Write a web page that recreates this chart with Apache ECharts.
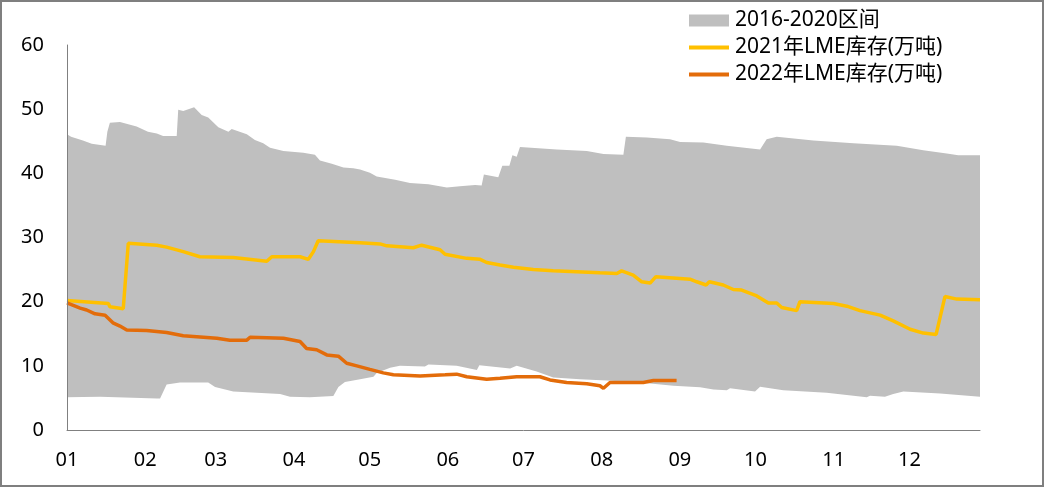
<!DOCTYPE html>
<html>
<head>
<meta charset="utf-8">
<script src="https://cdn.jsdelivr.net/npm/echarts@6/dist/echarts.min.js"></script>
<style>
html,body{margin:0;padding:0;background:#fff;}
#c{width:1044px;height:487px;}
</style>
</head>
<body>
<div id="c"></div>
<script>
// x positions are day-of-year offsets from Jan 1
const monthLabels = ['01','02','03','04','05','06','07','08','09','10','11','12'];
const yTicks = [0, 10, 20, 30, 40, 50, 60];

const highDays = [0, 1.6, 6.3, 9.8, 15.3, 16.0, 17.0, 21.0, 27.6, 32.1, 35.6, 38.1, 43.5, 44.1, 46.1, 50.4, 53.4, 56.0, 60.0, 64.0, 65.3, 71.3, 74.5, 77.8, 80.5, 85.8, 93.7, 98.3, 100.3, 105.0, 109.6, 113.5, 116.2, 120.1, 122.8, 130.1, 136.0, 143.3, 150.6, 155.8, 161.8, 164.4, 165.3, 171.0, 172.6, 175.4, 176.6, 178.3, 179.6, 194.2, 206.1, 212.7, 220.6, 221.6, 229.9, 239.1, 243.1, 252.3, 261.6, 274.8, 277.4, 281.4, 295.9, 311.8, 329.0, 339.5, 348.8, 353.4, 362];
const highVals = [46.1, 45.7, 45.1, 44.6, 44.3, 46.5, 47.9, 48.0, 47.3, 46.5, 46.2, 45.8, 45.8, 49.9, 49.7, 50.3, 49.1, 48.7, 47.2, 46.5, 46.9, 46.1, 45.2, 44.7, 44.0, 43.5, 43.2, 42.9, 42.0, 41.5, 40.9, 40.8, 40.6, 40.1, 39.5, 39.0, 38.5, 38.3, 37.8, 38.0, 38.2, 38.1, 39.8, 39.4, 41.2, 41.2, 42.8, 42.6, 44.1, 43.7, 43.5, 43.0, 42.9, 45.7, 45.6, 45.3, 44.9, 44.8, 44.3, 43.7, 45.3, 45.7, 45.1, 44.7, 44.3, 43.6, 43.1, 42.8, 42.8];

const lowDays = [0, 13.1, 35.6, 36.9, 39.5, 44.8, 56.0, 58.7, 65.9, 84.5, 88.4, 96.3, 105.6, 107.6, 110.2, 116.2, 121.5, 122.8, 128.1, 132.0, 141.9, 143.3, 154.5, 162.5, 163.5, 175.7, 178.3, 186.2, 192.8, 203.4, 214.0, 227.2, 240.4, 251.0, 256.3, 261.6, 262.9, 272.8, 274.8, 284.0, 301.2, 317.1, 318.4, 324.3, 327.6, 331.6, 346.2, 362];
const lowVals = [5.1, 5.2, 4.9, 4.9, 7.1, 7.4, 7.4, 6.7, 6.0, 5.6, 5.2, 5.1, 5.3, 6.7, 7.5, 7.9, 8.3, 8.9, 9.7, 10.0, 9.9, 10.2, 10.0, 9.35, 10.1, 9.6, 10.0, 9.1, 8.2, 7.9, 7.7, 7.4, 6.9, 6.65, 6.3, 6.2, 6.5, 6.0, 6.75, 6.2, 5.8, 5.1, 5.35, 5.2, 5.6, 6.0, 5.7, 5.2];

const y2021Days = [0, 16.4, 17.0, 22.3, 24.3, 35.6, 39.5, 46.1, 52.7, 65.9, 79.2, 81.2, 92.4, 95.7, 97.7, 99.6, 116.2, 124.1, 126.8, 137.3, 140.6, 147.9, 149.9, 158.5, 163.8, 166.4, 171.7, 177.0, 184.9, 192.8, 211.3, 218.0, 219.9, 224.5, 227.9, 231.2, 233.5, 247.0, 249.7, 253.4, 254.7, 260.2, 264.2, 267.5, 273.5, 278.1, 281.4, 283.4, 289.3, 290.6, 303.9, 309.2, 314.4, 322.4, 327.6, 334.3, 339.5, 344.6, 348.1, 352.8, 362];
const y2021Vals = [20.2, 19.7, 19.2, 18.9, 29.1, 28.8, 28.5, 27.8, 27.0, 26.9, 26.3, 27.0, 27.0, 26.6, 27.8, 29.5, 29.2, 29.0, 28.7, 28.4, 28.8, 28.1, 27.4, 26.75, 26.6, 26.1, 25.7, 25.35, 25.0, 24.8, 24.5, 24.4, 24.8, 24.15, 23.1, 22.9, 23.9, 23.5, 23.1, 22.6, 23.1, 22.6, 21.9, 21.8, 20.9, 19.8, 19.8, 19.1, 18.6, 20.0, 19.7, 19.3, 18.6, 17.9, 17.0, 15.7, 15.1, 14.9, 20.8, 20.4, 20.3];

const y2022Days = [0, 5.2, 7.8, 11.1, 15.1, 18.2, 21.0, 23.7, 31.6, 39.5, 46.1, 59.4, 64.6, 71.3, 72.6, 85.8, 92.4, 95.0, 99.0, 103.0, 107.6, 110.9, 114.9, 120.1, 125.4, 129.4, 140.0, 149.9, 154.5, 158.5, 166.4, 171.7, 178.3, 187.5, 191.5, 198.1, 206.1, 211.3, 212.7, 215.3, 228.5, 232.5, 241.7];
const y2022Vals = [19.8, 19.0, 18.7, 18.1, 17.9, 16.7, 16.2, 15.6, 15.5, 15.2, 14.7, 14.3, 14.0, 14.0, 14.45, 14.3, 13.8, 12.7, 12.5, 11.7, 11.5, 10.4, 10.0, 9.45, 8.9, 8.6, 8.4, 8.6, 8.7, 8.3, 7.9, 8.05, 8.3, 8.3, 7.8, 7.4, 7.2, 6.9, 6.5, 7.4, 7.4, 7.7, 7.7];

const names = ['2016-2020区间', '2021年LME库存(万吨)', '2022年LME库存(万吨)'];

const BASE = new Date(2021, 0, 1).getTime();
const DAY = 86400000;
const pts = (days, vals) => days.map((d, i) => [BASE + d * DAY, vals[i]]);
const FONT = '"Noto Sans", "Noto Sans CJK SC", sans-serif';
const LINE_ICON = 'path://M0,0 M0,4 L40,4 L40,8 L0,8 Z M40,12';

const chart = echarts.init(document.getElementById('c'), null, {renderer: 'canvas'});
chart.setOption({
  animation: false,
  backgroundColor: '#ffffff',
  textStyle: {fontFamily: FONT},
  graphic: [{
    type: 'rect', z: 100, silent: true,
    shape: {x: 1, y: 1, width: 1042, height: 485},
    style: {fill: 'none', stroke: '#7f7f7f', lineWidth: 2}
  }],
  grid: {left: 67, right: 64, top: 45, bottom: 57, containLabel: false},
  legend: {
    orient: 'vertical', left: 689, top: 10, padding: 0,
    itemWidth: 40, itemHeight: 12, itemGap: 6,
    textStyle: {fontSize: 21, color: '#000', fontFamily: FONT, lineHeight: 20, padding: [0, 0, 0, 1]},
    data: [
      {name: names[0], icon: 'rect'},
      {name: names[1], icon: LINE_ICON},
      {name: names[2], icon: LINE_ICON}
    ]
  },
  xAxis: {
    type: 'time', z: 10,
    min: BASE, max: BASE + 362 * DAY,
    minInterval: 28 * DAY, maxInterval: 31 * DAY,
    axisLine: {show: true, lineStyle: {color: '#808080', width: 1}},
    axisTick: {show: false},
    splitLine: {show: false},
    axisLabel: {
      fontSize: 20, color: '#000', fontFamily: FONT, margin: 20,
      showMaxLabel: false,
      formatter: function (v) {
        const d = new Date(v);
        return d.getDate() === 1 ? monthLabels[d.getMonth()] : '';
      }
    }
  },
  yAxis: {
    type: 'value', z: 10,
    min: yTicks[0], max: yTicks[yTicks.length - 1], interval: 10,
    axisLine: {show: true, lineStyle: {color: '#808080', width: 1}},
    axisTick: {show: false},
    splitLine: {show: false},
    axisLabel: {fontSize: 20, color: '#000', fontFamily: FONT, margin: 23}
  },
  series: [
    {
      name: names[0], type: 'line', z: 1, silent: true,
      data: pts(highDays, highVals), symbol: 'none',
      color: '#bfbfbf', itemStyle: {color: '#bfbfbf'},
      lineStyle: {width: 0, opacity: 0},
      areaStyle: {color: '#bfbfbf', opacity: 1}
    },
    {
      name: 'low', type: 'line', z: 2, silent: true,
      data: pts(lowDays, lowVals), symbol: 'none',
      color: '#ffffff',
      lineStyle: {width: 0, opacity: 0},
      areaStyle: {color: '#ffffff', opacity: 1}
    },
    {
      name: names[1], type: 'line', z: 3,
      data: pts(y2021Days, y2021Vals), symbol: 'none',
      color: '#ffc000', itemStyle: {color: '#ffc000'},
      lineStyle: {color: '#ffc000', width: 3.5}
    },
    {
      name: names[2], type: 'line', z: 4,
      data: pts(y2022Days, y2022Vals), symbol: 'none',
      color: '#e36c0a', itemStyle: {color: '#e36c0a'},
      lineStyle: {color: '#e36c0a', width: 3.5}
    }
  ]
});
</script>
</body>
</html>
